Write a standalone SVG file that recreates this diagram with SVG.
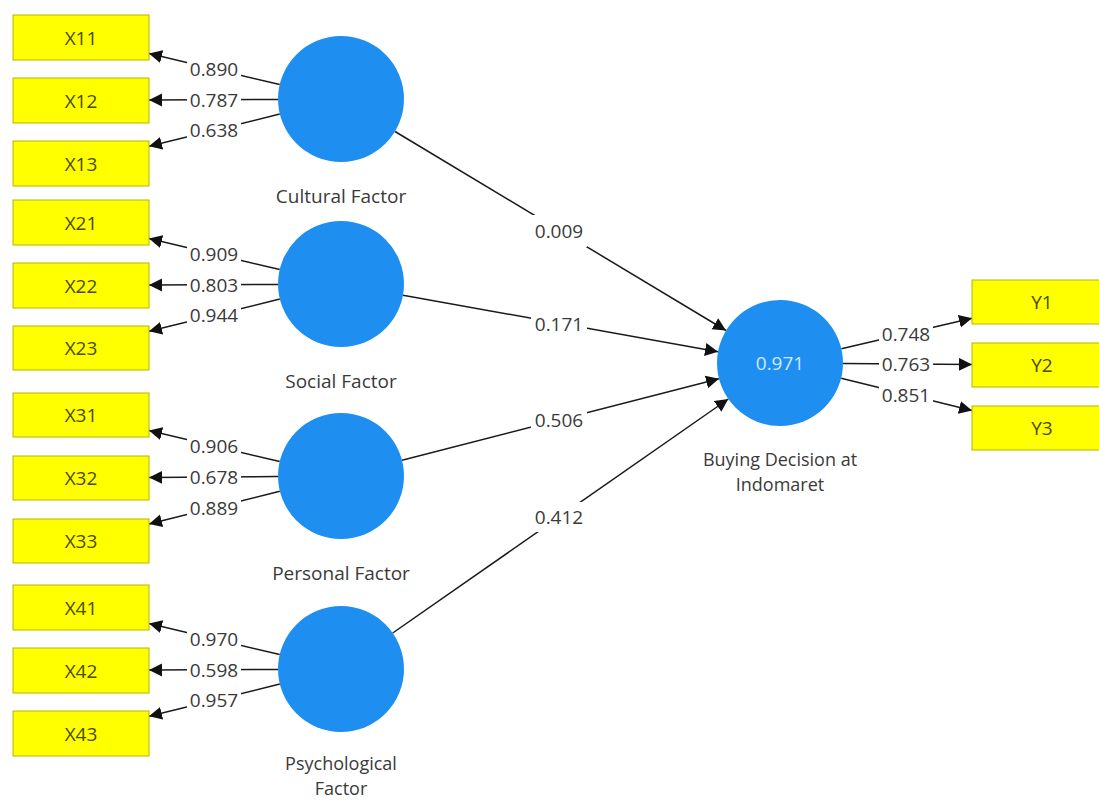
<svg xmlns="http://www.w3.org/2000/svg" width="1099" height="801" viewBox="0 0 1099 801">
<style>
.box{fill:#FFFF00;stroke:#B5B500;stroke-width:1}
.lv{fill:#1E8FF0}
.t{font-family:"Open Sans","Segoe UI","DejaVu Sans",sans-serif;font-size:19px;fill:#3a3a3a;text-anchor:middle}
.t2{font-family:"Open Sans","Segoe UI","DejaVu Sans",sans-serif;font-size:18px;fill:#3a3a3a;text-anchor:middle}
.bt{font-family:"Open Sans","Segoe UI","DejaVu Sans",sans-serif;font-size:19px;fill:#4a4a00;text-anchor:middle}
.ct{font-family:"Open Sans","Segoe UI","DejaVu Sans",sans-serif;font-size:19px;fill:#cfe9ff;text-anchor:middle}
.ln{stroke:#1a1a1a;stroke-width:1.5;fill:none;marker-end:url(#ah)}
.lb{fill:#ffffff}
</style>
<defs>
<marker id="ah" markerUnits="userSpaceOnUse" markerWidth="14" markerHeight="14" refX="13" refY="6.5" orient="auto">
<path d="M0,0 L13,6.5 L0,13 z" fill="#111"/>
</marker>
</defs>
<rect width="1099" height="801" fill="#ffffff"/>

<g id="connectors">
<!-- Cultural -->
<line class="ln" x1="279.7" y1="84.5" x2="149" y2="53.6"/>
<line class="ln" x1="278" y1="99.4" x2="149" y2="100.1"/>
<line class="ln" x1="279.8" y1="114.1" x2="149" y2="146.3"/>
<!-- Social -->
<line class="ln" x1="279.7" y1="269.5" x2="149" y2="238.6"/>
<line class="ln" x1="278" y1="284.4" x2="149" y2="285.1"/>
<line class="ln" x1="279.8" y1="299.1" x2="149" y2="331.3"/>
<!-- Personal -->
<line class="ln" x1="279.7" y1="461.5" x2="149" y2="430.6"/>
<line class="ln" x1="278" y1="476.5" x2="149" y2="477.5"/>
<line class="ln" x1="279.8" y1="491.3" x2="149" y2="524"/>
<!-- Psychological -->
<line class="ln" x1="279.7" y1="654.5" x2="149" y2="623.6"/>
<line class="ln" x1="278" y1="669.4" x2="149" y2="670.1"/>
<line class="ln" x1="279.8" y1="684.1" x2="149" y2="716.3"/>
<!-- Structural -->
<line class="ln" x1="395" y1="131.5" x2="726" y2="330.5"/>
<line class="ln" x1="403" y1="295.2" x2="718" y2="351.8"/>
<line class="ln" x1="402" y1="460.3" x2="719" y2="378.7"/>
<line class="ln" x1="392.7" y1="633" x2="728.3" y2="399"/>
<!-- Buying Decision -->
<line class="ln" x1="841.4" y1="348.7" x2="972" y2="318.3"/>
<line class="ln" x1="843" y1="363.5" x2="972" y2="364.5"/>
<line class="ln" x1="841.2" y1="378.2" x2="972" y2="410.6"/>

<!-- labels -->
<g>
<rect class="lb" x="187" y="59" width="54" height="20"/><text class="t" x="214" y="76">0.890</text>
<rect class="lb" x="187" y="90" width="54" height="20"/><text class="t" x="214" y="106.5">0.787</text>
<rect class="lb" x="187" y="120" width="54" height="20"/><text class="t" x="214" y="137">0.638</text>

<rect class="lb" x="187" y="244" width="54" height="20"/><text class="t" x="214" y="261">0.909</text>
<rect class="lb" x="187" y="275" width="54" height="20"/><text class="t" x="214" y="291.5">0.803</text>
<rect class="lb" x="187" y="305" width="54" height="20"/><text class="t" x="214" y="322">0.944</text>

<rect class="lb" x="187" y="436" width="54" height="20"/><text class="t" x="214" y="453">0.906</text>
<rect class="lb" x="187" y="467" width="54" height="20"/><text class="t" x="214" y="484">0.678</text>
<rect class="lb" x="187" y="498" width="54" height="20"/><text class="t" x="214" y="515">0.889</text>

<rect class="lb" x="187" y="629" width="54" height="20"/><text class="t" x="214" y="646">0.970</text>
<rect class="lb" x="187" y="660" width="54" height="20"/><text class="t" x="214" y="676.5">0.598</text>
<rect class="lb" x="187" y="690" width="54" height="20"/><text class="t" x="214" y="707">0.957</text>

<rect class="lb" x="531" y="215" width="56" height="32"/><text class="t" x="559" y="238">0.009</text>
<rect class="lb" x="531" y="313" width="56" height="22"/><text class="t" x="559" y="330.5">0.171</text>
<rect class="lb" x="531" y="408" width="56" height="24"/><text class="t" x="559" y="427">0.506</text>
<rect class="lb" x="531" y="502" width="56" height="30"/><text class="t" x="559" y="524">0.412</text>

<rect class="lb" x="879" y="324" width="54" height="20"/><text class="t" x="906" y="341">0.748</text>
<rect class="lb" x="879" y="354" width="54" height="20"/><text class="t" x="906" y="371">0.763</text>
<rect class="lb" x="879" y="385" width="54" height="20"/><text class="t" x="906" y="402">0.851</text>
</g>
</g>

<g id="X11"><rect class="box" x="13" y="15" width="136" height="45"/><text class="bt" x="81" y="44.5">X11</text></g>
<g id="X12"><rect class="box" x="13" y="78" width="136" height="45"/><text class="bt" x="81" y="107.5">X12</text></g>
<g id="X13"><rect class="box" x="13" y="141" width="136" height="45"/><text class="bt" x="81" y="170.5">X13</text></g>
<g id="X21"><rect class="box" x="13" y="200" width="136" height="45"/><text class="bt" x="81" y="229.5">X21</text></g>
<g id="X22"><rect class="box" x="13" y="263" width="136" height="45"/><text class="bt" x="81" y="292.5">X22</text></g>
<g id="X23"><rect class="box" x="13" y="326" width="136" height="44"/><text class="bt" x="81" y="355">X23</text></g>
<g id="X31"><rect class="box" x="13" y="393" width="136" height="44"/><text class="bt" x="81" y="422">X31</text></g>
<g id="X32"><rect class="box" x="13" y="456" width="136" height="44"/><text class="bt" x="81" y="485">X32</text></g>
<g id="X33"><rect class="box" x="13" y="519" width="136" height="44"/><text class="bt" x="81" y="548">X33</text></g>
<g id="X41"><rect class="box" x="13" y="585" width="136" height="45"/><text class="bt" x="81" y="614.5">X41</text></g>
<g id="X42"><rect class="box" x="13" y="648" width="136" height="45"/><text class="bt" x="81" y="677.5">X42</text></g>
<g id="X43"><rect class="box" x="13" y="711" width="136" height="45"/><text class="bt" x="81" y="740.5">X43</text></g>

<g id="Y1"><rect class="box" x="972" y="280" width="140" height="44"/><text class="bt" x="1042" y="309">Y1</text></g>
<g id="Y2"><rect class="box" x="972" y="343" width="140" height="44"/><text class="bt" x="1042" y="372">Y2</text></g>
<g id="Y3"><rect class="box" x="972" y="406" width="140" height="44"/><text class="bt" x="1042" y="435">Y3</text></g>

<g id="Cultural"><circle class="lv" cx="341" cy="99" r="63"/><text class="t" x="341" y="203">Cultural Factor</text></g>
<g id="Social"><circle class="lv" cx="341" cy="284" r="63"/><text class="t" x="341" y="388">Social Factor</text></g>
<g id="Personal"><circle class="lv" cx="341" cy="476" r="63"/><text class="t" x="341" y="580">Personal Factor</text></g>
<g id="Psychological"><circle class="lv" cx="341" cy="669" r="63"/><text class="t2" x="341" y="770"><tspan x="341">Psychological</tspan><tspan x="341" dy="25">Factor</tspan></text></g>
<g id="Buying"><circle class="lv" cx="780" cy="363" r="63"/><text class="ct" x="780" y="370">0.971</text><text class="t2" x="780" y="466"><tspan x="780">Buying Decision at</tspan><tspan x="780" dy="25">Indomaret</tspan></text></g>
</svg>
